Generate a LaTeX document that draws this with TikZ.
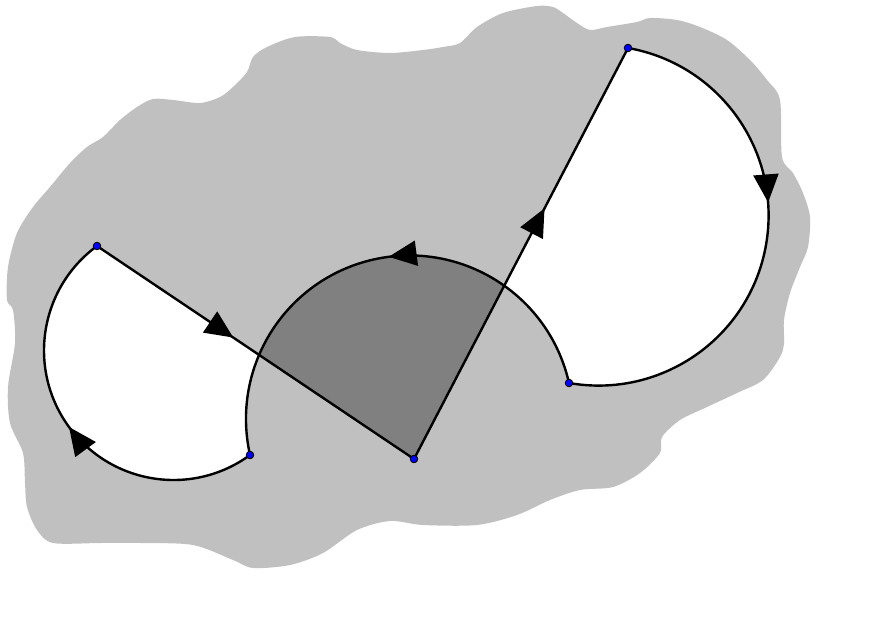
\documentclass[tikz,border=0pt]{standalone}
\usetikzlibrary{arrows.meta,decorations.markings}
\definecolor{blobgray}{RGB}{192,192,192}
\definecolor{sectorgray}{RGB}{128,128,128}
\tikzset{
	flow/.style={postaction={decorate,decoration={markings,
		mark=at position #1 with {\arrow{Triangle[length=28pt,width=25pt]}}}}},
	vertex/.style={circle,draw=black,fill=blue,inner sep=0pt,minimum size=7.5pt,line width=0.9pt}
}
\begin{document}
\begin{tikzpicture}[x=1pt,y=1pt,line width=2.4pt]
		\useasboundingbox (0,0) rectangle (876,633);
		\begin{scope}
			\coordinate (A) at (97,387);
			\coordinate (B) at (250,178);
			\coordinate (C) at (414,174);
			\coordinate (D) at (569,250);
			\coordinate (E) at (628,585);
			\coordinate (M) at (409.5,214);
		\end{scope}
		
		\fill[blobgray] plot[smooth cycle,tension=0.5] coordinates {
			(7,333) (8,366) (17,400) (33,426) (50,446) (70,470) (87,486) (103,496)
			(120,513) (137,526) (153,534) (173,533) (200,530) (220,536) (233,546)
			(247,561) (253,576) (267,586) (295,596) (330,596) (340,590) (357,583)
			(390,580) (423,583) (443,586) (460,590) (477,606) (503,620) (537,627)
			(553,626) (563,620) (577,610) (590,603) (607,606) (637,611) (650,615)
			(677,613) (700,606) (727,593) (750,573) (767,553) (780,533) (782,476)
			(793,460) (803,440) (810,416) (808,386) (800,366) (790,340) (784,313)
			(784,290) (780,276) (763,253) (737,240) (707,226) (680,213) (662,196)
			(660,180) (640,160) (613,146) (580,143) (550,133) (517,118) (477,108)
			(423,108) (390,112) (357,103) (323,80) (290,68) (253,65) (233,73)
			(193,88) (140,90) (100,90) (53,90) (37,103) (27,126) (25,150) (23,180)
			(10,210) (8,246) (15,290) (13,323)};
		\fill[white] (A) -- (C) -- (E)
			arc[start angle=80.01,end angle=-99.99,radius=170.08]
			arc[start angle=12.72,end angle=192.72,radius=163.51]
			arc[start angle=-53.8,end angle=-233.8,radius=129.51] -- cycle;
		\begin{scope}
			\clip (M) circle[radius=163.51];
			\fill[sectorgray] (A) -- (C) -- (E) -- cycle;
		\end{scope}
		
		\draw[flow=0.43] (A) -- (C);
		\draw[flow=0.61] (C) -- (E);
		\draw[flow=0.42] (E) arc[start angle=80.01,end angle=-99.99,radius=170.08];
		\draw[flow=0.47] (D) arc[start angle=12.72,end angle=192.72,radius=163.51];
		\draw[flow=0.5] (B) arc[start angle=-53.8,end angle=-233.8,radius=129.51];
		\foreach \p in {A,B,C,D,E}
			\node[vertex] (v\p) at (\p) {};
	\end{tikzpicture}
\end{document}
